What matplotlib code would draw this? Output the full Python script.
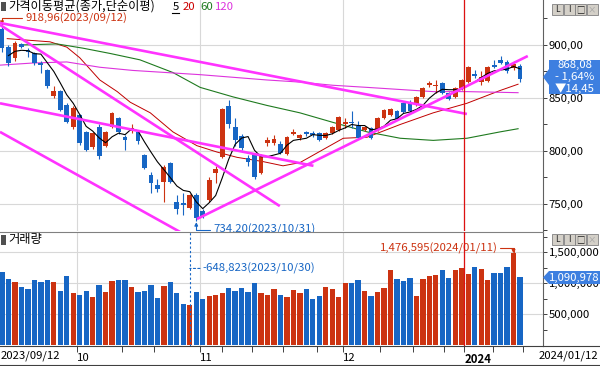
import numpy as np
import pandas as pd
import matplotlib
matplotlib.use('Agg')
import matplotlib.pyplot as plt
from matplotlib.patches import Polygon, Rectangle
from matplotlib.ticker import FixedLocator, FuncFormatter

plt.rcParams['font.family'] = ['Noto Sans CJK KR', 'DejaVu Sans']
plt.rcParams['font.size'] = 7.5

# daily candles 2023/09/12 .. 2024/01/12 (81 trading days)
opens = [915, 898, 888, 901, 895, 892, 883, 876, 852, 857,
         843, 823, 834, 818, 804, 823, 805, 823, 831, 813,
         819, 818, 796, 777, 768, 771, 789, 752, 751, 746,
         758, 743, 754, 779, 794, 842, 823, 814, 793, 796,
         779, 808, 808, 807, 797, 816, 812, 818, 817, 817,
         812, 817, 820, 825, 827, 824, 820, 822, 820, 831,
         834, 838, 845, 846, 843, 851, 862, 861, 864, 855,
         851, 859, 865, 873, 865, 866, 881, 886, 884, 878,
         880]
highs = [918.96, 900, 904, 902, 897, 893, 885, 877, 861, 858,
         845, 842, 835, 819, 818, 825, 819, 837, 832, 815,
         825, 819, 797, 780, 774, 787, 790, 758, 760, 759,
         760, 745, 775, 786, 841, 848, 831, 816, 796, 798,
         797, 813, 815, 809, 814, 821, 816, 819, 819, 818,
         818, 824, 833, 831, 838, 828, 824, 823, 832, 840,
         841, 839, 846, 848, 852, 860, 866, 867, 865, 856,
         860, 868, 880, 876, 875, 880, 886, 890, 886, 885,
         882]
lows = [893, 880, 885, 897, 889, 881, 874, 859, 850, 838,
        826, 821, 806, 800, 802, 792, 804, 822, 816, 801,
        817, 807, 783, 760, 761, 752, 770, 741, 740, 745,
        734.2, 737, 752, 770, 793, 822, 805, 801, 786, 774,
        778, 805, 806, 797, 796, 815, 810, 814, 813, 809,
        811, 816, 819, 822, 822, 811, 819, 811, 819, 830,
        833, 829, 836, 837, 842, 850, 860, 855, 854, 848,
        850, 858, 864, 869, 862, 865, 878, 882, 874, 876,
        865]
closes = [897, 883, 902, 898, 893, 883, 881, 861, 857, 839,
          827, 841, 808, 801, 817, 795, 818, 836, 818, 810,
          822, 809, 784, 770, 764, 785, 771, 745, 749, 758,
          737, 739, 773, 783, 840, 825, 810, 803, 790, 775,
          795, 810, 811, 798, 813, 818, 815, 816, 815, 810,
          817, 823, 832, 827, 826, 812, 823, 812, 831, 839,
          840, 830, 837, 838, 851, 859, 864, 862, 855, 849,
          859, 867, 879, 871, 870, 879, 879, 883, 875, 882.53,
          868.08]
volumes = [1180000, 1065000, 1016000, 935000, 900000, 1050000, 1016000, 1050000, 1016000, 870000,
           1110000, 844000, 806000, 870000, 780000, 968000, 860000, 1037000, 1050000, 1050000,
           935000, 860000, 876000, 968000, 763000, 950000, 1016000, 844000, 667000, 648823,
           855000, 742000, 790000, 810000, 838000, 920000, 870000, 920000, 855000, 1000000,
           838000, 806000, 900000, 806000, 770000, 887000, 838000, 900000, 742000, 790000,
           935000, 900000, 770000, 1005000, 1005000, 1050000, 870000, 795000, 855000, 920000,
           1210000, 1065000, 1032000, 1080000, 790000, 1065000, 1113000, 1129000, 1210000, 1080000,
           1210000, 1242000, 1145000, 1258000, 1226000, 1048000, 1161000, 1161000, 1258000, 1476595,
           1090978]

# moving averages (bar index, value)
ma20_idx = [0.8, 7.4, 10, 12, 15.1, 17.8, 19.8, 22.9, 26.4, 30.1, 33.2, 36.3, 40.3, 43.4, 46,
            52.7, 56.4, 61.5, 66.6, 71.8, 76.9, 79.7]
ma20_val = [906, 903, 898, 888, 867, 856, 846, 836, 818, 805, 799, 794, 790, 786, 789,
            812, 813, 825, 836, 845, 857, 863]
ma60_idx = [2.8, 8.5, 12.5, 16.7, 21.3, 26.4, 30.6, 35.7, 40.9, 46, 51.1, 56.4, 61.5, 66.6,
            71.8, 76.9, 79.7]
ma60_val = [900, 901, 897, 892, 886, 874, 860, 851, 843, 836, 827, 818, 812, 810,
            812, 818, 821]
ma120_idx = [-0.3, 4.8, 10, 15.1, 20.2, 30.6, 40.9, 46, 51.1, 56.4, 61.5, 66.6, 71.8, 79.7]
ma120_val = [881, 883, 884, 879, 876, 872, 867, 865, 862, 860, 858, 856, 856, 855]

# drawn trend lines (bar index, price)
trend_lines = [((-0.31, 920.8), (71.8, 834.9)),
               ((-0.31, 919.0), (42.9, 748.0)),
               ((-0.31, 818.0), (27.5, 723.6)),
               ((-0.31, 845.0), (48.1, 786.0)),
               ((30.1, 735.8), (81.2, 889.6))]

month_pos = [11.6, 30.6, 52.6, 71.4]
month_labels = ['10', '11', '12', '2024']
week_pos = [18.5, 23.5, 34.0, 38.6, 43.4, 48.6, 58.4, 63.5, 68.3, 75.8, 80.5]

RED = '#cc3311'
BLUE = '#1766c4'
MAG = '#ff33ff'
GRID = '#d8d8d8'
NUM = 8.2  # size of numeric labels
KOR = 8.8  # size of panel titles

opens = np.array(opens, float)
highs = np.array(highs, float)
lows = np.array(lows, float)
closes = np.array(closes, float)
volumes = np.array(volumes, float)
x = np.arange(len(closes))
up = closes >= opens
col = np.where(up, RED, BLUE)


def fx(px):
    return px / 600.0


def fy(py):
    return 1 - py / 366.0


fig = plt.figure(figsize=(6, 3.66), dpi=100)
ax = fig.add_axes([0, fy(231), fx(543), 231 / 366])
axv = fig.add_axes([0, fy(346), fx(543), 114 / 366], sharex=ax)

XL = (-0.31, 83.55)
ax.set_xlim(*XL)
ax.set_ylim(724.5, 942.45)
axv.set_ylim(-16000, 1822600)

# grid
for a in (ax, axv):
    for m in month_pos:
        a.axvline(m, color=GRID, lw=0.8, zorder=0)
for p in [750, 800, 850, 900]:
    ax.axhline(p, color=GRID, lw=0.8, zorder=0)
for v in [500000, 1000000, 1500000]:
    axv.axhline(v, color=GRID, lw=0.8, zorder=0)

# candles
ax.vlines(x, lows, highs, colors=col, lw=0.8, zorder=3)
body = np.maximum(np.abs(closes - opens), 0.8)
ax.bar(x, body, bottom=np.minimum(opens, closes), width=0.74, color=col, lw=0, zorder=3)

# moving averages
ma5 = pd.Series(closes).rolling(5, min_periods=1).mean()
ax.plot(x[1:], ma5[1:], color='black', lw=0.8, zorder=4)
ax.plot(ma20_idx, ma20_val, color='#c00000', lw=0.7, zorder=2)
ax.plot(ma60_idx, ma60_val, color='#1f7a1f', lw=0.8, zorder=2)
ax.plot(ma120_idx, ma120_val, color='#dd33dd', lw=0.8, zorder=2)

for (x0, y0), (x1, y1) in trend_lines:
    ax.plot([x0, x1], [y0, y1], color=MAG, lw=1.9, zorder=5, solid_capstyle='butt')

# highest / lowest price
hi = int(np.argmax(highs))
ax.annotate('918,96(2023/09/12)', xy=(hi, highs[hi]), xytext=(23, 7), textcoords='offset pixels',
            color=RED, va='center', ha='left', fontsize=NUM,
            arrowprops=dict(arrowstyle='-|>', color=RED, lw=0.8, mutation_scale=5,
                            connectionstyle='angle,angleA=0,angleB=90,rad=0',
                            shrinkA=0, shrinkB=0))
lo = int(np.argmin(lows))
ax.annotate('734,20(2023/10/31)', xy=(lo, lows[lo]), xytext=(17, -9), textcoords='offset pixels',
            color=BLUE, va='center', ha='left', fontsize=NUM,
            arrowprops=dict(arrowstyle='-|>', color=BLUE, lw=0.8, mutation_scale=5,
                            connectionstyle='angle,angleA=0,angleB=90,rad=0',
                            shrinkA=0, shrinkB=1))

# red cursor line
for a in (ax, axv):
    a.axvline(71.4, color='#dd1111', lw=0.9, zorder=6)

# volume
axv.bar(x, volumes, width=0.82, color=col, lw=0, zorder=3)
vlo = int(np.argmin(volumes))
axv.axvline(vlo, color=BLUE, lw=0.8, ls=(0, (2, 2)), zorder=4)
axv.annotate('-648,823(2023/10/30)', xy=(vlo, 1235000), xytext=(13, 0), textcoords='offset pixels',
             color=BLUE, va='center', ha='left', fontsize=NUM,
             arrowprops=dict(arrowstyle='-', color=BLUE, lw=0.8, ls=(0, (2, 2)),
                             shrinkA=0, shrinkB=0))
vhi = int(np.argmax(volumes))
axv.annotate('1,476,595(2024/01/11)', xy=(vhi, volumes[vhi]), xytext=(-16, 5), textcoords='offset pixels',
             color=RED, va='center', ha='right', fontsize=NUM,
             arrowprops=dict(arrowstyle='-|>', color=RED, lw=0.8, mutation_scale=5,
                             connectionstyle='angle,angleA=0,angleB=90,rad=0',
                             shrinkA=0, shrinkB=0))

# axes styling
for a in (ax, axv):
    for s in ['top', 'left', 'bottom']:
        a.spines[s].set_visible(False)
    a.spines['right'].set_color('#606060')
    a.spines['right'].set_linewidth(0.8)
    a.yaxis.tick_right()
    a.tick_params(axis='y', which='both', direction='out', length=3, width=0.7,
                  color='#404040', pad=1, labelsize=NUM)
axv.spines['bottom'].set_visible(True)
axv.spines['bottom'].set_color('#404040')
axv.spines['top'].set_visible(True)
axv.spines['top'].set_color('#808080')
axv.spines['top'].set_linewidth(0.8)

ax.yaxis.set_major_locator(FixedLocator([750, 800, 850, 900]))
ax.yaxis.set_minor_locator(FixedLocator([725, 775, 825, 875, 925]))
ax.yaxis.set_major_formatter(FuncFormatter(lambda v, p: f'{v:.2f}'.replace('.', ',')))
axv.yaxis.set_major_locator(FixedLocator([500000, 1000000, 1500000]))
axv.yaxis.set_minor_locator(FixedLocator([250000, 750000, 1250000, 1750000]))
axv.yaxis.set_major_formatter(FuncFormatter(lambda v, p: f'{int(v):,}'))
ax.tick_params(axis='x', which='both', bottom=False, labelbottom=False)

axv.xaxis.set_major_locator(FixedLocator(month_pos))
axv.xaxis.set_minor_locator(FixedLocator(week_pos))
axv.set_xticklabels(month_labels)
axv.tick_params(axis='x', which='both', direction='out', length=4, width=0.7,
                color='#404040', pad=1, labelsize=NUM)
for lab in axv.get_xticklabels():
    lab.set_ha('left')
axv.get_xticklabels()[-1].set_fontweight('bold')
axv.set_xlim(*XL)

# headers
fig.patches.append(Rectangle((fx(1), fy(11)), fx(5), 9 / 366, transform=fig.transFigure,
                             facecolor='#505050', edgecolor='none'))
fig.text(fx(8), fy(6.5), '가격이동평균(종가,단순이평)', va='center', ha='left', fontsize=KOR)
fig.text(fx(173), fy(6.5), '5', va='center', ha='left', fontsize=NUM)
fig.lines.append(plt.Line2D([fx(172), fx(179)], [fy(13), fy(13)], color='black', lw=0.8,
                            transform=fig.transFigure))
fig.text(fx(183), fy(6.5), '20', va='center', ha='left', fontsize=NUM, color='#cc0000')
fig.text(fx(200), fy(6.5), '60', va='center', ha='left', fontsize=NUM, color='#1f7a1f')
fig.text(fx(215), fy(6.5), '120', va='center', ha='left', fontsize=NUM, color='#dd33dd')

fig.patches.append(Rectangle((fx(1), fy(245)), fx(5), 10 / 366, transform=fig.transFigure,
                             facecolor='#505050', edgecolor='none'))
fig.text(fx(8), fy(240), '거래량', va='center', ha='left', fontsize=KOR)

# panel buttons
for top in (4, 234):
    for k, s in enumerate(['L', 'I', '□', '×']):
        x0 = 552 + k * 11.5
        fig.patches.append(Rectangle((fx(x0), fy(top + 11)), fx(11), 11 / 366,
                                     transform=fig.transFigure, facecolor='#d4d0c8',
                                     edgecolor='#808080', lw=0.6))
        fig.text(fx(x0 + 5.5), fy(top + 5.5), s, va='center', ha='center', fontsize=6,
                 color='#202020' if k < 3 else '#a0a0a0')

# current price / volume tags
LBL = '#3d7fe0'
fig.patches.append(Polygon([(fx(543), fy(77)), (fx(549), fy(69)), (fx(549), fy(60)),
                            (fx(600), fy(60)), (fx(600), fy(94)), (fx(549), fy(94)),
                            (fx(549), fy(85))], closed=True, transform=fig.transFigure,
                           facecolor=LBL, edgecolor='none'))
for py, s in [(65, '868,08'), (77, '- 1,64%'), (88.5, '▼14,45')]:
    fig.text(fx(575), fy(py), s, va='center', ha='center', fontsize=NUM, color='white')
fig.patches.append(Polygon([(fx(543), fy(277.5)), (fx(549), fy(271)), (fx(600), fy(271)),
                            (fx(600), fy(284)), (fx(549), fy(284))], closed=True,
                           transform=fig.transFigure, facecolor=LBL, edgecolor='none'))
fig.text(fx(574), fy(277.5), '1,090,978', va='center', ha='center', fontsize=NUM, color='white')

# date range labels
fig.text(fx(1), fy(356), '2023/09/12', va='center', ha='left', fontsize=NUM)
fig.text(fx(598), fy(356), '2024/01/12', va='center', ha='right', fontsize=NUM)
fig.lines.append(plt.Line2D([0, 1], [fy(365), fy(365)], color='#404040', lw=0.8,
                            transform=fig.transFigure))
fig.lines.append(plt.Line2D([fx(543), 1], [fy(346), fy(346)], color='#404040', lw=0.8,
                            transform=fig.transFigure))

fig.savefig('out.png', dpi=100)
